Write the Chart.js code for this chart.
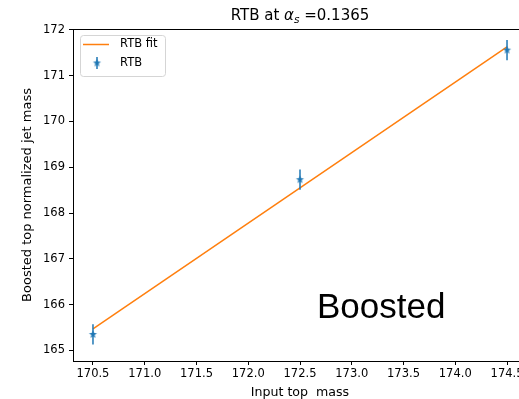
<!DOCTYPE html>
<html>
<head>
<meta charset="utf-8">
<script src="https://cdn.jsdelivr.net/npm/chart.js@4/dist/chart.umd.min.js"></script>
<style>
  html, body { margin: 0; padding: 0; background: #fff; overflow: hidden; }
  #wrap { width: 519px; height: 399px; overflow: hidden; }
  canvas { display: block; }
</style>
</head>
<body>
<div id="wrap"><canvas id="c" width="535" height="399"></canvas></div>
<script>
// Input top masses and the fitted boosted-top jet mass
const inputMass = [170.5, 172.5, 174.5];
const rtbMass = [165.35, 168.73, 171.56];
const rtbErr = [0.22, 0.22, 0.22];
const fitMass = [165.47, 168.55, 171.63];

const xTicks = [170.5, 171.0, 171.5, 172.0, 172.5, 173.0, 173.5, 174.0, 174.5];
const yTicks = [165, 166, 167, 168, 169, 170, 171, 172];

const BLUE = '#1f77b4';
const ORANGE = '#ff7f0e';
const FONT = "'DejaVu Sans', sans-serif";

// filled five-point star marker
function makeStar(r, color) {
  const s = Math.ceil(r * 2 + 2);
  const cv = document.createElement('canvas');
  cv.width = s; cv.height = s;
  const g = cv.getContext('2d');
  g.fillStyle = color;
  g.beginPath();
  for (let i = 0; i < 10; i++) {
    const rad = i % 2 === 0 ? r : r * 0.42;
    const a = -Math.PI / 2 + i * Math.PI / 5;
    const px = s / 2 + rad * Math.cos(a), py = s / 2 + rad * Math.sin(a);
    if (i === 0) g.moveTo(px, py); else g.lineTo(px, py);
  }
  g.closePath();
  g.fill();
  return cv;
}
const star = makeStar(4.2, BLUE);

const extras = {
  id: 'extras',
  beforeDatasetDraw(chart, args) {
    if (args.index !== 0) return;
    const { ctx, scales: { x, y } } = chart;
    ctx.save();
    ctx.strokeStyle = BLUE;
    ctx.lineWidth = 1.5;
    inputMass.forEach((m, i) => {
      const px = x.getPixelForValue(m);
      ctx.beginPath();
      ctx.moveTo(px, y.getPixelForValue(rtbMass[i] - rtbErr[i]));
      ctx.lineTo(px, y.getPixelForValue(rtbMass[i] + rtbErr[i]));
      ctx.stroke();
    });
    ctx.restore();
  },
  afterDraw(chart) {
    const { ctx, chartArea: a } = chart;
    ctx.save();
    // top spine
    ctx.strokeStyle = '#000';
    ctx.lineWidth = 1;
    ctx.beginPath();
    ctx.moveTo(a.left, Math.round(a.top) + 0.5);
    ctx.lineTo(a.right, Math.round(a.top) + 0.5);
    ctx.stroke();

    // title: RTB at α_s =0.1365
    const fs = 15;
    const parts = [
      { t: 'RTB at ', f: `${fs}px ${FONT}`, dy: 0 },
      { t: 'α', f: `italic ${fs}px ${FONT}`, dy: 0 },
      { t: 's', f: `italic ${fs * 0.7}px ${FONT}`, dy: 3 },
      { t: ' =0.1365', f: `${fs}px ${FONT}`, dy: 0 }
    ];
    let total = 0;
    parts.forEach(p => { ctx.font = p.f; p.w = ctx.measureText(p.t).width; total += p.w; });
    let tx = (a.left + a.right) / 2 - total / 2;
    ctx.fillStyle = '#000';
    ctx.textBaseline = 'alphabetic';
    ctx.textAlign = 'left';
    parts.forEach(p => { ctx.font = p.f; ctx.fillText(p.t, tx, 19.5 + p.dy); tx += p.w; });

    // legend
    const lx = 80.5, ly = 35.5, lw = 85, lh = 41, r = 3;
    ctx.fillStyle = 'rgba(255,255,255,0.8)';
    ctx.strokeStyle = '#d5d5d5';
    ctx.lineWidth = 1;
    ctx.beginPath();
    ctx.roundRect(lx, ly, lw, lh, r);
    ctx.fill();
    ctx.stroke();
    const fitDs = chart.data.datasets[1], ptDs = chart.data.datasets[0];
    ctx.strokeStyle = ORANGE;
    ctx.lineWidth = 1.5;
    ctx.beginPath();
    ctx.moveTo(83, 44.5); ctx.lineTo(109, 44.5);
    ctx.stroke();
    ctx.strokeStyle = BLUE;
    ctx.beginPath();
    ctx.moveTo(97, 57); ctx.lineTo(97, 69);
    ctx.stroke();
    ctx.drawImage(star, 97 - star.width / 2, 63 - star.height / 2);
    ctx.fillStyle = '#000';
    ctx.font = `11.5px ${FONT}`;
    ctx.textBaseline = 'middle';
    ctx.fillText(fitDs.label, 120, 44.5);
    ctx.fillText(ptDs.label, 120, 63.5);

    // annotation
    ctx.font = "35px 'Liberation Sans', Arial, sans-serif";
    ctx.textBaseline = 'alphabetic';
    ctx.fillText('Boosted', 317, 318);
    ctx.restore();
  }
};

new Chart(document.getElementById('c'), {
  type: 'scatter',
  data: {
    datasets: [
      {
        label: 'RTB',
        data: inputMass.map((m, i) => ({ x: m, y: rtbMass[i] })),
        pointStyle: star,
        pointRadius: 4,
        showLine: false,
        borderColor: BLUE,
        backgroundColor: BLUE
      },
      {
        label: 'RTB fit',
        data: inputMass.map((m, i) => ({ x: m, y: fitMass[i] })),
        showLine: true,
        pointRadius: 0,
        borderColor: ORANGE,
        borderWidth: 1.5,
        backgroundColor: ORANGE
      }
    ]
  },
  options: {
    responsive: false,
    animation: false,
    events: [],
    layout: { padding: { top: 29, right: 8, bottom: 0, left: 0 } },
    plugins: { legend: { display: false }, title: { display: false }, tooltip: { enabled: false } },
    scales: {
      x: {
        type: 'linear',
        min: 170.307,
        max: 174.693,
        afterFit(s) { s.height = 38; },
        afterBuildTicks(s) { s.ticks = xTicks.map(v => ({ value: v })); },
        ticks: {
          color: '#000',
          font: { family: FONT, size: 11.5 },
          padding: 2,
          maxRotation: 0,
          autoSkip: false,
          callback: v => Number(v).toFixed(1)
        },
        grid: { display: true, drawOnChartArea: false, drawTicks: true, tickLength: 4, color: '#000' },
        border: { display: true, color: '#000', width: 1 },
        title: {
          display: true,
          text: 'Input top  mass',
          color: '#000',
          font: { family: FONT, size: 12.6 },
          padding: { top: 0, bottom: -1.5 }
        }
      },
      y: {
        type: 'linear',
        min: 164.77,
        max: 172.02,
        afterFit(s) { s.width = 73; },
        afterBuildTicks(s) { s.ticks = yTicks.map(v => ({ value: v })); },
        ticks: {
          color: '#000',
          font: { family: FONT, size: 11.5 },
          padding: 4,
          callback: v => String(v)
        },
        grid: { display: true, drawOnChartArea: false, drawTicks: true, tickLength: 4, color: '#000' },
        border: { display: true, color: '#000', width: 1 },
        title: {
          display: true,
          text: 'Boosted top normalized jet mass',
          color: '#000',
          font: { family: FONT, size: 13 },
          padding: { top: 20, bottom: 0 }
        }
      }
    }
  },
  plugins: [extras]
});
</script>
</body>
</html>
